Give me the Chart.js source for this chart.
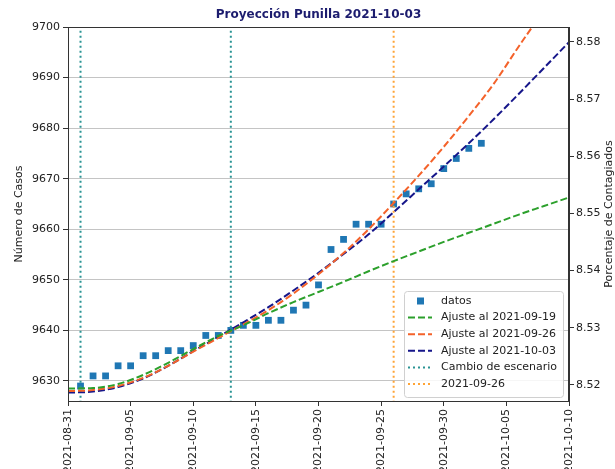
<!DOCTYPE html>
<html>
<head>
<meta charset="utf-8">
<script src="https://cdn.jsdelivr.net/npm/chart.js@4"></script>
<style>
  body { margin: 0; background: #fff; }
  #wrap { position: relative; width: 615px; height: 469px; }
</style>
</head>
<body>
<div id="wrap"><canvas id="grafico" width="615" height="469"></canvas></div>
<script>
// datos diarios
const fechas = [
    "2021-09-01", "2021-09-02", "2021-09-03", "2021-09-04", "2021-09-05", "2021-09-06",
    "2021-09-07", "2021-09-08", "2021-09-09", "2021-09-10", "2021-09-11", "2021-09-12",
    "2021-09-13", "2021-09-14", "2021-09-15", "2021-09-16", "2021-09-17", "2021-09-18",
    "2021-09-19", "2021-09-20", "2021-09-21", "2021-09-22", "2021-09-23", "2021-09-24",
    "2021-09-25", "2021-09-26", "2021-09-27", "2021-09-28", "2021-09-29", "2021-09-30",
    "2021-10-01", "2021-10-02", "2021-10-03"
];
const casos = [
    9629, 9631, 9631, 9633, 9633, 9635,
    9635, 9636, 9636, 9637, 9639, 9639,
    9640, 9641, 9641, 9642, 9642, 9644,
    9645, 9649, 9656, 9658, 9661, 9661,
    9661, 9665, 9667, 9668, 9669, 9672,
    9674, 9676, 9677
];

// curvas de ajuste
const fechasAjuste = [
    "2021-08-31", "2021-09-02", "2021-09-04", "2021-09-06", "2021-09-08", "2021-09-10",
    "2021-09-12", "2021-09-14", "2021-09-16", "2021-09-18", "2021-09-20", "2021-09-22",
    "2021-09-24", "2021-09-26", "2021-09-28", "2021-09-30", "2021-10-02", "2021-10-04",
    "2021-10-06", "2021-10-08", "2021-10-10"
];
const ajuste0919 = [
    9628.5, 9628.6, 9629.4, 9631.2, 9633.6, 9636.3,
    9638.9, 9641.0, 9643.4, 9645.6, 9647.6, 9649.6,
    9651.7, 9653.7, 9655.6, 9657.5, 9659.3, 9661.1,
    9662.9, 9664.6, 9666.3
];
const ajuste0926 = [
    9628.0, 9628.2, 9629.0, 9630.6, 9633.0, 9635.8,
    9638.5, 9641.2, 9644.0, 9647.3, 9651.1, 9655.3,
    9660.0, 9665.2, 9670.6, 9676.3, 9682.4, 9688.8,
    9696.2, 9703.4, 9711.0
];
const ajuste1003 = [
    9627.7, 9627.9, 9628.8, 9630.5, 9633.0, 9635.9,
    9638.7, 9641.6, 9644.6, 9647.9, 9651.4, 9655.1,
    9659.0, 9663.4, 9667.9, 9672.4, 9677.0, 9681.8,
    9686.8, 9691.9, 9697.0
];

const cambiosEscenario = ["2021-09-01", "2021-09-13"];
const fechaCorte = "2021-09-26";

// ejes
const inicio = "2021-08-31";
const ticksX = [
    "2021-08-31", "2021-09-05", "2021-09-10", "2021-09-15", "2021-09-20",
    "2021-09-25", "2021-09-30", "2021-10-05", "2021-10-10"
];
const ticksCasos = [9630, 9640, 9650, 9660, 9670, 9680, 9690, 9700];
const ticksPorcentaje = [8.52, 8.53, 8.54, 8.55, 8.56, 8.57, 8.58];
const rangoCasos = [9626.04, 9700];
const rangoPorcentaje = [8.5172, 8.5826];
const tituloDerecho = "Porcentaje de Contagiados";

function dia(f) {
    return (Date.parse(f) - Date.parse(inicio)) / 864e5;
}

function verticales(lista) {
    const pts = [];
    lista.forEach((f, i) => {
        if (i > 0) pts.push({ x: dia(f), y: null });
        pts.push({ x: dia(f), y: 9600 }, { x: dia(f), y: 9720 });
    });
    return pts;
}

Chart.defaults.font.family = "'DejaVu Sans', sans-serif";
Chart.defaults.color = "#222";

// marco completo, leyenda dentro del area y titulo del eje derecho
const marco = {
    id: "marco",
    afterDraw(chart) {
        const { ctx, chartArea: a } = chart;
        ctx.save();

        // leyenda
        const x0 = a.right - 165, y0 = a.bottom - 110;
        const w = 159, h = 106;
        ctx.fillStyle = "rgba(255,255,255,0.85)";
        ctx.strokeStyle = "#d0d0d0";
        ctx.lineWidth = 1;
        ctx.beginPath();
        ctx.roundRect(x0 + 0.5, y0 + 0.5, w, h, 3);
        ctx.fill();
        ctx.stroke();

        ctx.font = "11px 'DejaVu Sans'";
        ctx.textBaseline = "middle";
        chart.data.datasets.forEach((ds, i) => {
            const y = y0 + 10 + i * 16.6;
            const hx = x0 + 4;
            if (ds.showLine === false) {
                ctx.fillStyle = ds.backgroundColor;
                ctx.fillRect(hx + 9, y - 3.5, 7, 7);
            } else {
                ctx.strokeStyle = ds.borderColor;
                ctx.lineWidth = ds.borderWidth;
                ctx.setLineDash(ds.borderDash || []);
                ctx.beginPath();
                ctx.moveTo(hx, y);
                ctx.lineTo(hx + 24, y);
                ctx.stroke();
                ctx.setLineDash([]);
            }
            ctx.fillStyle = "#222";
            ctx.fillText(ds.label, x0 + 37, y);
        });

        // bordes
        ctx.strokeStyle = "#333";
        ctx.lineWidth = 1;
        ctx.strokeRect(a.left + 0.5, a.top + 0.5, a.right - a.left - 1, a.bottom - a.top);

        // titulo eje derecho, de abajo hacia arriba
        ctx.translate(chart.width - 6, (a.top + a.bottom) / 2);
        ctx.rotate(-Math.PI / 2);
        ctx.textAlign = "center";
        ctx.textBaseline = "middle";
        ctx.fillStyle = "#222";
        ctx.fillText(tituloDerecho, 0, 0);
        ctx.restore();
    }
};

const puntos = (xs, ys) => xs.map((f, i) => ({ x: dia(f), y: ys[i] }));

new Chart(document.getElementById("grafico"), {
    type: "line",
    data: {
        datasets: [
            {
                label: "datos",
                data: puntos(fechas, casos),
                showLine: false,
                pointStyle: "rect",
                pointRadius: 4.8,
                backgroundColor: "#1f77b4",
                borderColor: "#1f77b4",
                pointBorderWidth: 0,
                order: 1
            },
            {
                label: "Ajuste al 2021-09-19",
                data: puntos(fechasAjuste, ajuste0919),
                borderColor: "#2ca02c",
                borderWidth: 2,
                borderDash: [7, 3],
                pointRadius: 0,
                cubicInterpolationMode: "monotone"
            },
            {
                label: "Ajuste al 2021-09-26",
                data: puntos(fechasAjuste, ajuste0926),
                borderColor: "#f4622a",
                borderWidth: 2,
                borderDash: [7, 3],
                pointRadius: 0,
                cubicInterpolationMode: "monotone"
            },
            {
                label: "Ajuste al 2021-10-03",
                data: puntos(fechasAjuste, ajuste1003),
                borderColor: "#16168a",
                borderWidth: 2,
                borderDash: [7, 3],
                pointRadius: 0,
                cubicInterpolationMode: "monotone"
            },
            {
                label: "Cambio de escenario",
                data: verticales(cambiosEscenario),
                borderColor: "#2a9494",
                borderWidth: 2,
                borderDash: [2, 3],
                pointRadius: 0,
                spanGaps: false
            },
            {
                label: fechaCorte,
                data: verticales([fechaCorte]),
                borderColor: "#ffa436",
                borderWidth: 2,
                borderDash: [2, 3],
                pointRadius: 0
            }
        ]
    },
    options: {
        responsive: false,
        animation: false,
        devicePixelRatio: 1,
        layout: { padding: 0 },
        plugins: {
            legend: { display: false },
            tooltip: { enabled: false },
            title: {
                display: true,
                fullSize: false,
                text: "Proyección Punilla 2021-10-03",
                color: "#1c1c6e",
                font: { size: 12, weight: "bold" },
                padding: { top: 8, bottom: 4.6 }
            }
        },
        scales: {
            x: {
                type: "linear",
                position: "bottom",
                min: 0,
                max: 40,
                afterBuildTicks: s => { s.ticks = ticksX.map(f => ({ value: dia(f) })); },
                ticks: {
                    autoSkip: false,
                    minRotation: 90,
                    maxRotation: 90,
                    padding: 3,
                    font: { size: 11 },
                    callback: (v) => ticksX.find(f => dia(f) === v)
                },
                grid: { drawOnChartArea: false, tickLength: 5, tickColor: "#333" },
                border: { color: "#333" },
                afterFit: s => { s.height = 68; }
            },
            y: {
                position: "left",
                min: rangoCasos[0],
                max: rangoCasos[1],
                afterBuildTicks: s => { s.ticks = ticksCasos.map(v => ({ value: v })); },
                ticks: { padding: 3, font: { size: 11 }, callback: v => String(v) },
                grid: { color: "#c4c4c4", tickColor: "#333", tickLength: 5 },
                border: { color: "#333" },
                title: {
                    display: true,
                    text: "Número de Casos",
                    font: { size: 11 },
                    color: "#222",
                    padding: { top: 13, bottom: 0 }
                },
                afterFit: s => { s.width = 68; }
            },
            y2: {
                position: "right",
                min: rangoPorcentaje[0],
                max: rangoPorcentaje[1],
                afterBuildTicks: s => { s.ticks = ticksPorcentaje.map(v => ({ value: v })); },
                ticks: { padding: 2, font: { size: 11 }, callback: v => v.toFixed(2) },
                grid: { drawOnChartArea: false, tickColor: "#333", tickLength: 5 },
                border: { color: "#333" },
                afterFit: s => { s.width = 46; }
            }
        }
    },
    plugins: [marco]
});
</script>
</body>
</html>
